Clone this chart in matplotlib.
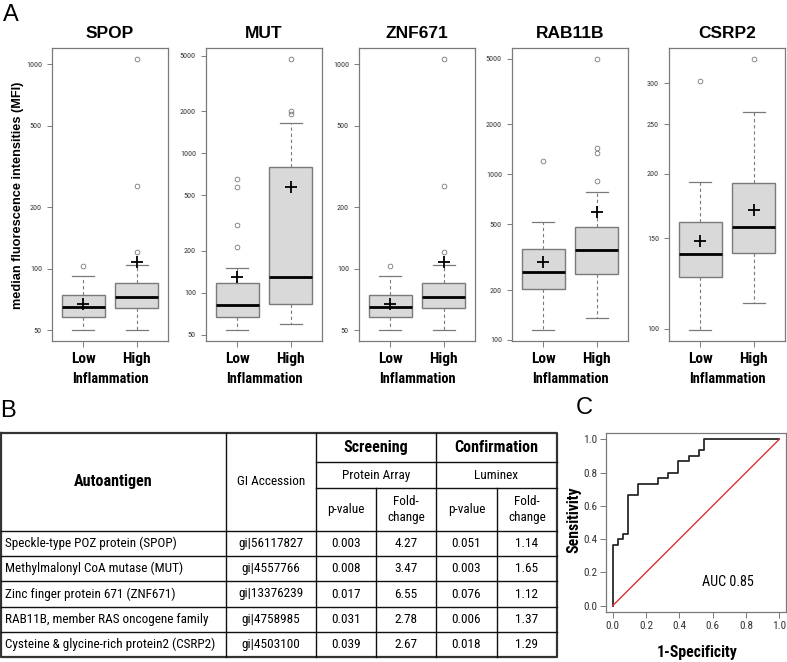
import matplotlib
matplotlib.use('Agg')
import matplotlib.pyplot as plt
import matplotlib.font_manager as fm
import numpy as np

W, H = 787, 662
fig = plt.figure(figsize=(W / 100, H / 100), dpi=100)

SANS = ['Liberation Sans', 'DejaVu Sans']

# pick a narrow / condensed font if one is installed
_names = {f.name for f in fm.fontManager.ttflist}
_cond = {f.name for f in fm.fontManager.ttflist
         if str(f.stretch) in ('condensed', 'semi-condensed', 'extra-condensed')
         or (isinstance(f.stretch, (int, float)) and f.stretch < 500)}
NARROW_FAM = None
NARROW_STRETCH = 'normal'
for cand in ['Liberation Sans Narrow', 'Arial Narrow', 'Roboto Condensed',
             'Open Sans Condensed', 'Nimbus Sans Narrow', 'Noto Sans Display']:
    if cand in _names:
        NARROW_FAM = cand
        break
if NARROW_FAM is None:
    for cand in ['Roboto', 'Open Sans', 'Noto Sans', 'DejaVu Sans', 'Liberation Sans']:
        if cand in _cond:
            NARROW_FAM = cand
            NARROW_STRETCH = 'condensed'
            break
if NARROW_FAM is None:
    NARROW_FAM = 'Liberation Sans'
NARROW = [NARROW_FAM, 'Liberation Sans', 'DejaVu Sans']

# font-size factor so that table text widths match the reference cell layout
_probe = fig.text(0, 0, 'Speckle-type POZ protein (SPOP)', fontsize=10,
                  family=NARROW, fontstretch=NARROW_STRETCH)
_w = _probe.get_window_extent(fig.canvas.get_renderer()).width
_probe.remove()
NS = min(1.0, 166.0 / _w)


def nkw(size, **kw):
    d = dict(fontsize=size * NS, family=NARROW, fontstretch=NARROW_STRETCH)
    d.update(kw)
    return d


def rect(l, t, r, b):
    return [l / W, 1 - b / H, (r - l) / W, (b - t) / H]


def fx(x):
    return x / W


def fy(y):
    return 1 - y / H


# ---------------- Panel A data ----------------
genes = ['SPOP', 'MUT', 'ZNF671', 'RAB11B', 'CSRP2']
groups = ['Low', 'High']

# [whislo, q1, median, q3, whishi, mean]
spop_low = [50, 58, 65, 74.5, 91.5, 67]
spop_high = [50, 64, 73, 85, 104.5, 107.5]
spop_low_out = [103.5]
spop_high_out = [120, 253, 1062]

mut_low = [53.8, 67, 81.5, 118, 151, 130]
mut_high = [60, 82.4, 130, 793, 1633, 575]
mut_low_out = [211, 305, 569, 653]
mut_high_out = [1897, 2013, 4748]

znf_low = [50, 58, 65, 74.5, 91.5, 67]
znf_high = [50, 64, 73, 85, 104.5, 107.5]
znf_low_out = [103.5]
znf_high_out = [120, 253, 1062]

rab_low = [114.5, 204, 256, 355, 514, 294]
rab_high = [135, 250, 347, 480, 780, 594]
rab_low_out = [1211]
rab_high_out = [910, 1352, 1439, 4978]

csrp_low = [99.3, 126, 140, 161, 193, 148]
csrp_high = [112.3, 140.6, 158, 192, 264, 170.5]
csrp_low_out = [303]
csrp_high_out = [335]

spop_ticks = [50, 100, 200, 500, 1000]
mut_ticks = [50, 100, 200, 500, 1000, 2000, 5000]
znf_ticks = [50, 100, 200, 500, 1000]
rab_ticks = [100, 200, 500, 1000, 2000, 5000]
csrp_ticks = [100, 150, 200, 250, 300]

panel_data = [
    (spop_low, spop_high, spop_low_out, spop_high_out, spop_ticks),
    (mut_low, mut_high, mut_low_out, mut_high_out, mut_ticks),
    (znf_low, znf_high, znf_low_out, znf_high_out, znf_ticks),
    (rab_low, rab_high, rab_low_out, rab_high_out, rab_ticks),
    (csrp_low, csrp_high, csrp_low_out, csrp_high_out, csrp_ticks),
]

box_lefts = [52, 206, 359, 512, 669]
box_w = 116
box_top, box_bot = 48, 341

EDGE = '#7a7a7a'
for i, (gname, (lo, hi, lo_out, hi_out, ticks)) in enumerate(zip(genes, panel_data)):
    l = box_lefts[i]
    ax = fig.add_axes(rect(l, box_top, l + box_w, box_bot))
    stats = []
    for s, out in ((lo, lo_out), (hi, hi_out)):
        stats.append(dict(whislo=s[0], q1=s[1], med=s[2], q3=s[3], whishi=s[4],
                          mean=s[5], fliers=out))
    ax.bxp(stats, positions=[1, 2], widths=0.8, capwidths=0.4, showmeans=True,
           patch_artist=True, manage_ticks=False,
           boxprops=dict(facecolor='#d9d9d9', edgecolor=EDGE, linewidth=1.0),
           medianprops=dict(color='black', linewidth=2.0, solid_capstyle='butt'),
           whiskerprops=dict(color=EDGE, linewidth=0.8, linestyle=(0, (3, 2.5))),
           capprops=dict(color=EDGE, linewidth=0.9),
           flierprops=dict(marker='o', markersize=3.4, markerfacecolor='none',
                           markeredgecolor='#777777', markeredgewidth=0.6),
           meanprops=dict(marker='+', markersize=8, markeredgecolor='black',
                          markeredgewidth=1.3))
    ax.set_yscale('log')
    allv = lo[:5] + hi[:5] + lo_out + hi_out + [lo[5], hi[5]]
    lmin, lmax = np.log10(min(allv)), np.log10(max(allv))
    pad = 0.04 * (lmax - lmin)
    ax.set_ylim(10 ** (lmin - pad), 10 ** (lmax + pad))
    ax.set_xlim(0.42, 2.58)
    ax.set_yticks(ticks)
    ax.set_yticklabels([str(t) for t in ticks])
    ax.yaxis.set_minor_locator(matplotlib.ticker.NullLocator())
    ax.set_xticks([1, 2])
    ax.set_xticklabels(groups)
    for lab in ax.get_yticklabels():
        lab.set_fontfamily(NARROW)
        lab.set_fontstretch(NARROW_STRETCH)
        lab.set_fontsize(5.8)
        lab.set_color('#333333')
    for lab in ax.get_xticklabels():
        lab.set_fontfamily(NARROW)
        lab.set_fontstretch(NARROW_STRETCH)
        lab.set_fontsize(12 * NS)
        lab.set_fontweight('bold')
    ax.tick_params(axis='y', length=3.8, width=0.7, color=EDGE, pad=3.5)
    ax.tick_params(axis='x', length=4.2, width=0.7, color=EDGE, pad=3.5)
    for sp in ax.spines.values():
        sp.set_color(EDGE)
        sp.set_linewidth(0.9)
    cx = l + box_w / 2
    fig.text(fx(cx), fy(33), gname, ha='center', va='center', fontsize=12.5,
             fontweight='bold', family=SANS)
    fig.text(fx(cx), fy(379), 'Inflammation', ha='center', va='center',
             fontweight='bold', **nkw(11.2))

fig.text(fx(18), fy(195), 'median fluorescence intensities (MFI)', rotation=90,
         ha='center', va='center', fontsize=9.2, fontweight='bold', family=SANS)

fig.text(fx(3), fy(15), 'A', ha='left', va='center', fontsize=17, family=SANS)
fig.text(fx(0), fy(411), 'B', ha='left', va='center', fontsize=17, family=SANS)
fig.text(fx(584), fy(408), 'C', ha='center', va='center', fontsize=17, family=SANS)

# ---------------- Panel B: table ----------------
antigens = ['Speckle-type POZ protein (SPOP)', 'Methylmalonyl CoA mutase (MUT)',
            'Zinc finger protein 671 (ZNF671)', 'RAB11B, member RAS oncogene family',
            'Cysteine & glycine-rich protein2 (CSRP2)']
gi_acc = ['gi|56117827', 'gi|4557766', 'gi|13376239', 'gi|4758985', 'gi|4503100']
scr_p = ['0.003', '0.008', '0.017', '0.031', '0.039']
scr_fc = ['4.27', '3.47', '6.55', '2.78', '2.67']
conf_p = ['0.051', '0.003', '0.076', '0.006', '0.018']
conf_fc = ['1.14', '1.65', '1.12', '1.37', '1.29']

tax = fig.add_axes([0, 0, 1, 1])
tax.set_xlim(0, W)
tax.set_ylim(H, 0)
tax.axis('off')
tax.patch.set_alpha(0)

cols = [1, 226, 316, 376, 436, 497, 557]
rows = [432.7, 462.3, 488.3, 530.7, 556, 581.3, 606.7, 632, 656.7]
LW = 1.0
lc = '#111111'
tax.plot([cols[0], cols[-1], cols[-1], cols[0], cols[0]],
         [rows[0], rows[0], rows[-1], rows[-1], rows[0]], color='#333333', lw=1.6)
for c in (cols[1], cols[2], cols[4]):
    tax.plot([c, c], [rows[0], rows[-1]], color=lc, lw=LW)
for c in (cols[3], cols[5]):
    tax.plot([c, c], [rows[2], rows[-1]], color=lc, lw=LW)
for r in rows[1:3]:
    tax.plot([cols[2], cols[-1]], [r, r], color=lc, lw=LW)
for r in rows[3:-1]:
    tax.plot([cols[0], cols[-1]], [r, r], color=lc, lw=LW)

TFS = 10.4
tax.text(113.5, 481.7, 'Autoantigen', ha='center', va='center',
         fontweight='bold', **nkw(12.6))
tax.text(271, 481.7, 'GI Accession', ha='center', va='center', **nkw(TFS))
tax.text(376, 447.5, 'Screening', ha='center', va='center',
         fontweight='bold', **nkw(12.6))
tax.text(496.5, 447.5, 'Confirmation', ha='center', va='center',
         fontweight='bold', **nkw(12.6))
tax.text(376, 475.3, 'Protein Array', ha='center', va='center', **nkw(TFS))
tax.text(496.5, 475.3, 'Luminex', ha='center', va='center', **nkw(TFS))
for cx in (346, 466.5):
    tax.text(cx, 509.5, 'p-value', ha='center', va='center', **nkw(TFS))
for cx in (406, 527):
    tax.text(cx, 509.5, 'Fold-\nchange', ha='center', va='center',
             linespacing=1.25, **nkw(TFS))

for i in range(len(antigens)):
    yc = (rows[3 + i] + rows[4 + i]) / 2
    tax.text(5, yc, antigens[i], ha='left', va='center', **nkw(TFS))
    tax.text(271, yc, gi_acc[i], ha='center', va='center', **nkw(TFS))
    tax.text(346, yc, scr_p[i], ha='center', va='center', **nkw(TFS))
    tax.text(406, yc, scr_fc[i], ha='center', va='center', **nkw(TFS))
    tax.text(466.5, yc, conf_p[i], ha='center', va='center', **nkw(TFS))
    tax.text(527, yc, conf_fc[i], ha='center', va='center', **nkw(TFS))

# ---------------- Panel C: ROC ----------------
roc_fpr = [0, 0, 0.030, 0.061, 0.091, 0.152, 0.273, 0.333, 0.394, 0.455, 0.515, 0.545, 1.0]
roc_tpr = [0, 0.367, 0.400, 0.433, 0.667, 0.733, 0.767, 0.800, 0.867, 0.900, 0.933, 1.0, 1.0]
auc_text = 'AUC 0.85'

rax = fig.add_axes(rect(606, 432.6, 786, 612.4))
rax.plot(roc_fpr, roc_tpr, drawstyle='steps-post', color='#2a2a2a', lw=1.3)
rax.plot([0, 1], [0, 1], color='#dd3333', lw=1.0)
rax.set_xlim(-0.04, 1.04)
rax.set_ylim(-0.04, 1.04)
ticks = [0.0, 0.2, 0.4, 0.6, 0.8, 1.0]
rax.set_xticks(ticks)
rax.set_yticks(ticks)
rax.set_xticklabels(['%.1f' % t for t in ticks])
rax.set_yticklabels(['%.1f' % t for t in ticks])
for lab in rax.get_xticklabels() + rax.get_yticklabels():
    lab.set_fontfamily(NARROW)
    lab.set_fontstretch(NARROW_STRETCH)
    lab.set_fontsize(8.8 * NS)
    lab.set_color('#333333')
rax.tick_params(length=4, width=0.7, color=EDGE, pad=2)
for sp in rax.spines.values():
    sp.set_color(EDGE)
    sp.set_linewidth(0.9)
rax.text(0.69, 0.145, auc_text, ha='center', va='center', **nkw(11))
fig.text(fx(574), fy(520), 'Sensitivity', rotation=90, ha='center', va='center',
         fontweight='bold', **nkw(12.3))
fig.text(fx(697), fy(652), '1-Specificity', ha='center', va='center',
         fontweight='bold', **nkw(12.3))

fig.savefig('out.png', dpi=100)
